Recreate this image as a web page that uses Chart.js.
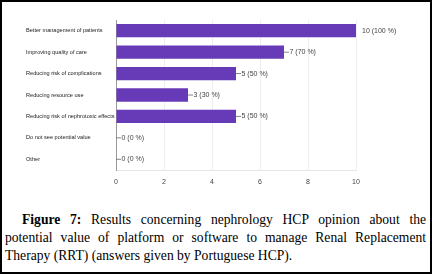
<!DOCTYPE html>
<html>
<head>
<meta charset="utf-8">
<script src="https://cdn.jsdelivr.net/npm/chart.js@4"></script>
<style>
  html, body { margin: 0; padding: 0; background: #fff; }
  #frame { position: relative; width: 428px; height: 270px; border: 2px solid #000; overflow: hidden; }
  #chart-wrap { position: absolute; left: -2px; top: -2px; width: 432px; height: 195px; }
  #caption {
    position: absolute; left: 3px; top: 209px; width: 421px;
    font-family: "Liberation Serif", "Times New Roman", serif; font-size: 13.6px; line-height: 18px;
    text-align: justify; text-indent: 17px; color: #000;
  }
</style>
</head>
<body>
<div id="frame">
  <div id="chart-wrap"><canvas id="chart"></canvas></div>
  <div id="caption"><b>Figure 7:</b> Results concerning nephrology HCP opinion about the potential value of platform or software to manage Renal Replacement Therapy (RRT) (answers given by Portuguese HCP).</div>
</div>
<script>
const categories = [
  'Better management of patients',
  'Improving quality of care',
  'Reducing risk of complications',
  'Reducing resource use',
  'Reducing risk of nephrotoxic effects',
  'Do not see potential value',
  'Other'
];
const counts = [10, 7, 5, 3, 5, 0, 0];
const percents = [100, 70, 50, 30, 50, 0, 0];
const xTicks = [0, 2, 4, 6, 8, 10];

// value labels at the end of each bar, with a short leader line
const valueLabels = {
  id: 'valueLabels',
  afterDatasetsDraw(chart) {
    const ctx = chart.ctx;
    const meta = chart.getDatasetMeta(0);
    const xScale = chart.scales.x;
    ctx.save();
    ctx.font = '7px "Liberation Sans", Arial, sans-serif';
    ctx.textBaseline = 'middle';
    ctx.fillStyle = '#444';
    ctx.strokeStyle = '#666';
    ctx.lineWidth = 0.8;
    meta.data.forEach((bar, i) => {
      const v = counts[i];
      const end = xScale.getPixelForValue(v);
      const text = v + ' (' + percents[i] + ' %)';
      let tx = end + 6;
      if (v < xScale.max) {
        ctx.beginPath();
        ctx.moveTo(end, bar.y);
        ctx.lineTo(end + 5, bar.y);
        ctx.stroke();
        tx = end + 5.5;
      }
      ctx.fillText(text, tx, bar.y);
    });
    ctx.restore();
  }
};

new Chart(document.getElementById('chart'), {
  type: 'bar',
  data: {
    labels: categories,
    datasets: [{
      data: counts,
      backgroundColor: '#673ab7',
      borderWidth: 0,
      barPercentage: 1,
      categoryPercentage: 0.62
    }]
  },
  options: {
    indexAxis: 'y',
    responsive: true,
    maintainAspectRatio: false,
    animation: false,
    layout: { padding: { left: 26, right: 76, top: 20, bottom: 0 } },
    plugins: { legend: { display: false }, tooltip: { enabled: false } },
    scales: {
      x: {
        min: 0, max: 10,
        afterBuildTicks: scale => { scale.ticks = xTicks.map(v => ({ value: v })); },
        afterFit: scale => { scale.height = 25; },
        grid: { color: '#eeeeee', drawTicks: false, lineWidth: 1 },
        border: { display: true, color: '#e6e6e6' },
        ticks: { color: '#444', font: { size: 7, family: '"Liberation Sans", Arial, sans-serif' }, padding: 8 }
      },
      y: {
        afterFit: scale => { scale.width = 90; },
        grid: { display: false, drawTicks: false },
        border: { display: true, color: '#999', width: 1 },
        ticks: {
          crossAlign: 'far',
          color: '#222',
          font: { size: 5.6, family: '"Liberation Sans", Arial, sans-serif' },
          padding: 4
        }
      }
    }
  },
  plugins: [valueLabels]
});
</script>
</body>
</html>
